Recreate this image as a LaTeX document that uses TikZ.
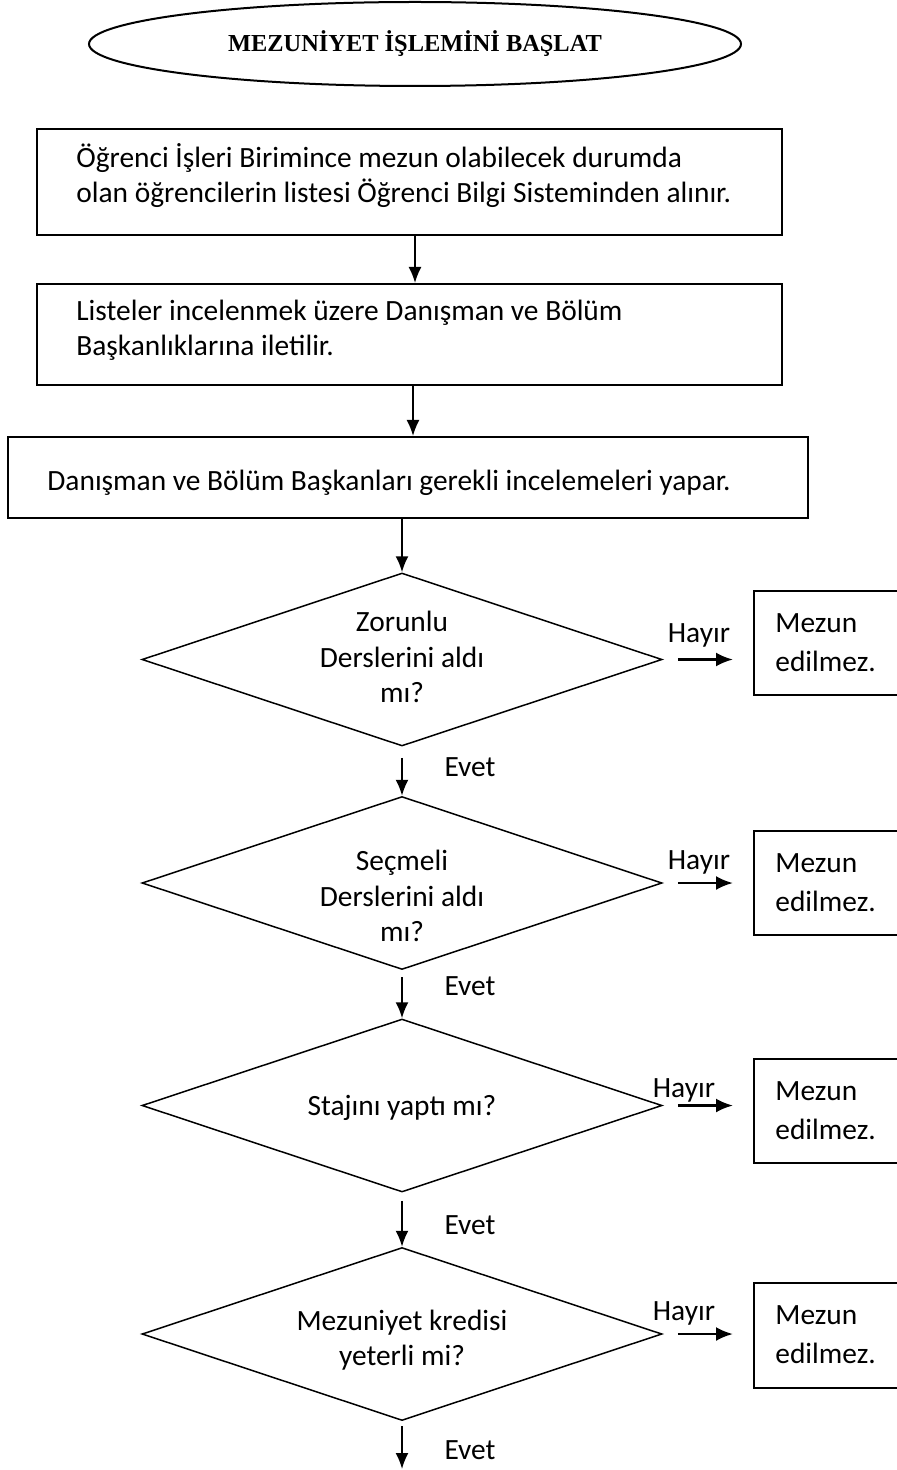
\documentclass[tikz,border=0pt]{standalone}
\usepackage{fontspec}
\setmainfont{Carlito}
\newfontfamily\titlefont{Liberation Serif}
\usetikzlibrary{shapes.geometric,arrows.meta}

\begin{document}
\begin{tikzpicture}[x=0.5pt,y=-0.5pt,
  body/.style={font=\fontsize{14.7}{17.5}\selectfont, inner sep=0pt, align=left},
  cbody/.style={font=\fontsize{14.7}{17.8}\selectfont, inner sep=0pt, align=center},
  stepbox/.style={draw, rectangle, line width=1pt, inner sep=0pt},
  endbox/.style={draw, rectangle, line width=1pt, inner sep=0pt, minimum width=78pt},
  decision/.style={draw, diamond, line width=0.75pt, inner sep=0pt,
    minimum width=260pt, minimum height=86.5pt},
  arr/.style={-{Latex[length=8pt,width=6.5pt]}, line width=0.9pt},
  sidearr/.style={-{Latex[length=8.5pt,width=7pt]}, line width=1.3pt},
  lbl/.style={font=\fontsize{14.7}{17}\selectfont, inner sep=0pt}]

\clip (0,0) rectangle (897,1470);

% start
\node[draw, ellipse, line width=1pt, inner sep=0pt,
  minimum width=326pt, minimum height=42pt,
  font=\titlefont\bfseries\fontsize{12.2}{14}\selectfont] (start) at (415,44)
  {MEZUNİYET İŞLEMİNİ BAŞLAT};

% process boxes
\node[stepbox, minimum width=372.5pt, minimum height=53pt] (b1) at (409.5,182) {};
\node[body, anchor=west] (t1) at (76,175.5)
  {Öğrenci İşleri Birimince mezun olabilecek durumda\\
   olan öğrencilerin listesi Öğrenci Bilgi Sisteminden alınır.};

\node[stepbox, minimum width=372.5pt, minimum height=50.5pt] (b2) at (409.5,334.5) {};
\node[body, anchor=west] (t2) at (76,330.5)
  {Listeler incelenmek üzere Danışman ve Bölüm\\
   Başkanlıklarına iletilir.};

\node[stepbox, minimum width=400pt, minimum height=40.5pt] (b3) at (408,477.5) {};
\node[body, anchor=west] (t3) at (47,483)
  {Danışman ve Bölüm Başkanları gerekli incelemeleri yapar.};

% decisions
\node[decision] (d1) at (402,659.5) {};
\node[cbody] (q1) at (402,657) {Zorunlu\\Derslerini aldı\\mı?};
\node[decision] (d2) at (402,883) {};
\node[cbody] (q2) at (402,896) {Seçmeli\\Derslerini aldı\\mı?};
\node[decision] (d3) at (402,1105.5) {};
\node[cbody] (q3) at (402,1108) {Stajını yaptı mı?};
\node[decision] (d4) at (402,1334) {};
\node[cbody] (q4) at (402,1340) {Mezuniyet kredisi\\yeterli mi?};

% rejection boxes
\node[endbox, minimum height=52pt] (m1) at (832,643) {};
\node[endbox, minimum height=52pt] (m2) at (832,883) {};
\node[endbox, minimum height=52pt] (m3) at (832,1111) {};
\node[endbox, minimum height=52.5pt] (m4) at (832,1335.5) {};
\foreach \n/\y in {1/642.5, 2/882.5, 3/1111, 4/1335}
  \node[font=\fontsize{14.7}{19.5}\selectfont, inner sep=0pt, align=left, anchor=west]
    (r\n) at (775,\y) {Mezun\\edilmez.};

% main flow
\draw[arr] ([xshift=2.75pt]b1.south) -- ([xshift=2.75pt]b2.north);
\draw[arr] ([xshift=1.75pt]b2.south) -- ([xshift=2.5pt]b3.north);
\draw[arr] ([xshift=-3pt]b3.south) -- (d1.north);
\draw[arr, shorten <=5.5pt] (d1.south) -- (d2.north);
\draw[arr, shorten <=3.5pt] (d2.south) -- (d3.north);
\draw[arr, shorten <=4pt] (d3.south) -- (d4.north);
\coordinate (fin) at (402,1469);
\draw[arr, shorten <=2.5pt] (d4.south) -- (fin);

% "no" branches
\foreach \i in {1,2,3,4}
  \draw[sidearr, shorten <=7.5pt, shorten >=10pt] (d\i.east) -- (d\i.east -| m\i.west);

% branch labels
\node[lbl] (h1) at (699,635) {Hayır};
\node[lbl] (h2) at (699,862) {Hayır};
\node[lbl] (h3) at (684,1090) {Hayır};
\node[lbl] (h4) at (684,1313) {Hayır};
\node[lbl] (e1) at (470,767) {Evet};
\node[lbl] (e2) at (470,986) {Evet};
\node[lbl] (e3) at (470,1225) {Evet};
\node[lbl] (e4) at (470,1450) {Evet};
\end{tikzpicture}
\end{document}
